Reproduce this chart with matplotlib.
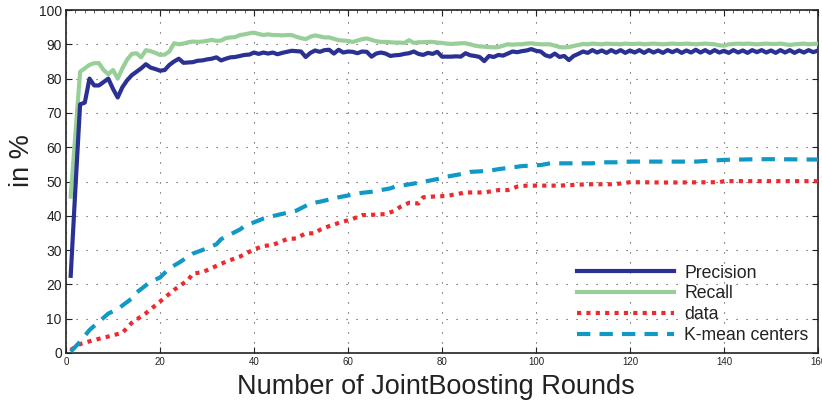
import numpy as np
import matplotlib
matplotlib.use("Agg")
import matplotlib.pyplot as plt
from matplotlib.ticker import MultipleLocator

plt.rcParams['font.family'] = ['Liberation Sans', 'DejaVu Sans']

# ---- data ----
rounds = list(range(1, 161))

precision = [
    22.5, 48.0, 72.5, 73.0, 80.0, 78.0, 78.0, 79.0, 80.0, 77.0,
    74.5, 77.5, 79.5, 81.0, 82.0, 83.0, 84.2, 83.2, 82.8, 82.3,
    82.5, 84.0, 85.0, 85.8, 84.6, 84.7, 84.8, 85.2, 85.3, 85.6,
    85.8, 86.2, 85.3, 85.8, 86.2, 86.3, 86.6, 86.9, 87.0, 87.6,
    87.2, 87.6, 87.3, 87.6, 87.1, 87.5, 87.8, 88.1, 88.0, 87.9,
    86.3, 87.5, 88.2, 87.8, 88.3, 88.4, 87.3, 88.4, 87.6, 87.9,
    87.8, 87.4, 87.9, 87.8, 86.4, 87.3, 87.6, 87.3, 86.6, 86.8,
    86.9, 87.2, 87.4, 87.9, 87.2, 86.9, 87.5, 87.2, 87.8, 86.4,
    86.4, 86.4, 86.5, 86.4, 87.4, 86.8, 86.6, 86.3, 85.1, 86.6,
    86.3, 86.9, 86.7, 87.3, 87.9, 87.7, 88.0, 88.2, 88.6, 88.1,
    87.9, 86.8, 86.4, 87.3, 86.3, 86.6, 85.4, 86.6, 87.2, 87.9,
    87.5, 88.3, 87.6, 88.2, 87.5, 88.3, 87.6, 88.3, 87.5, 88.2,
    87.6, 88.3, 87.5, 88.3, 87.6, 88.2, 87.5, 88.3, 87.7, 88.3,
    87.5, 88.2, 87.6, 88.4, 87.6, 88.3, 87.5, 88.3, 87.6, 88.1,
    87.5, 88.3, 87.6, 88.2, 87.5, 88.3, 87.7, 88.3, 87.6, 88.2,
    87.5, 88.3, 87.6, 88.3, 87.5, 88.2, 87.6, 88.3, 87.7, 88.2,
]

recall = [
    45.6, 64.0, 82.0, 83.0, 84.0, 84.5, 84.5, 82.5, 81.3, 82.5,
    80.0, 83.0, 85.5, 87.2, 87.4, 86.2, 88.3, 88.0, 87.5, 86.9,
    87.0, 87.9, 90.3, 90.0, 90.2, 90.6, 90.8, 90.7, 90.8, 91.0,
    91.3, 91.0, 91.1, 91.8, 92.0, 92.1, 92.7, 92.9, 93.2, 93.4,
    93.0, 92.7, 92.9, 92.7, 92.7, 92.6, 92.7, 92.7, 92.2, 91.8,
    91.5, 92.2, 92.6, 92.3, 92.0, 92.0, 91.6, 91.2, 91.1, 91.0,
    90.7, 91.1, 91.5, 91.7, 91.3, 90.9, 90.7, 90.7, 90.6, 90.5,
    90.5, 90.4, 91.2, 90.4, 90.6, 90.6, 90.7, 90.7, 90.5, 90.4,
    90.2, 90.1, 90.2, 90.3, 90.3, 90.0, 89.6, 89.4, 89.3, 89.2,
    89.1, 89.2, 89.6, 90.0, 89.9, 90.0, 90.0, 90.2, 90.3, 90.1,
    90.0, 90.0, 90.0, 89.6, 89.2, 89.1, 89.2, 89.5, 89.8, 90.1,
    90.0, 90.2, 90.1, 90.0, 90.2, 90.1, 90.1, 90.0, 90.2, 90.1,
    90.1, 90.2, 90.0, 90.1, 90.2, 90.1, 90.0, 90.1, 90.2, 90.1,
    90.1, 90.2, 90.1, 90.0, 90.1, 90.2, 90.1, 90.0, 89.7, 89.6,
    90.0, 90.1, 90.2, 90.1, 90.2, 90.1, 90.0, 90.1, 90.2, 90.1,
    90.1, 90.2, 90.0, 89.8, 90.0, 90.1, 90.2, 90.0, 90.1, 90.2,
]

data_x = [1, 3, 6, 9, 12, 14, 17, 20, 23, 26, 27, 29, 32, 34, 37, 40, 42, 44,
          47, 49, 51, 53, 54, 56, 58, 61, 63, 64, 68, 70, 71, 73, 75, 76, 78,
          81, 85, 89, 92, 94, 96, 98, 101, 105, 111, 116, 118, 120, 128, 139,
          140, 160]
data_y = [0.9, 2.6, 3.8, 4.8, 5.9, 8.8, 11.6, 15.0, 18.4, 21.3, 23.2, 23.5,
          25.4, 26.6, 28.1, 30.2, 31.2, 31.5, 33.2, 33.4, 34.9, 34.9, 35.9,
          37.0, 37.9, 39.1, 40.2, 40.2, 40.5, 41.5, 42.5, 43.8, 43.6, 45.4,
          45.6, 45.8, 46.8, 46.8, 47.5, 47.5, 48.5, 48.8, 48.8, 48.8, 49.2,
          49.2, 49.4, 49.8, 49.7, 49.8, 50.1, 50.1]

kmean_x = [1, 3, 5, 9, 11, 14, 15, 18, 20, 22, 24, 27, 29, 32, 33, 37, 38, 42,
           43, 49, 52, 54, 58, 63, 65, 69, 70, 74, 76, 79, 81, 85, 86, 90, 92,
           96, 97, 101, 103, 106, 109, 112, 114, 117, 120, 123, 129, 134, 140,
           147, 151, 160]
kmean_y = [0.4, 3.3, 6.7, 11.5, 12.8, 15.9, 17.6, 20.8, 22.0, 24.7, 26.3, 29.0,
           30.0, 31.7, 33.2, 36.0, 37.0, 39.2, 39.6, 41.5, 43.6, 44.1, 45.4,
           46.7, 47.0, 48.0, 48.5, 49.4, 49.9, 50.7, 51.4, 52.4, 52.8, 53.1,
           53.6, 54.3, 54.5, 54.8, 55.3, 55.3, 55.3, 55.3, 55.6, 55.6, 55.8,
           55.8, 55.8, 55.8, 56.3, 56.5, 56.5, 56.4]

labels = ["Precision", "Recall", "data", "K-mean centers"]
colors = ["#2B3192", "#98CF99", "#EE2A2E", "#1199C6"]

# ---- figure ----
fig = plt.figure(figsize=(8.22, 4.03), dpi=100)
ax = fig.add_axes([66 / 822, 50 / 403, 752 / 822, 343 / 403])

lw = 3.0
ax.plot(rounds, recall, color=colors[1], lw=lw, label=labels[1], zorder=3,
        solid_joinstyle='round')
ax.plot(rounds, precision, color=colors[0], lw=lw, label=labels[0], zorder=4,
        solid_joinstyle='round')
ax.plot(data_x, data_y, color=colors[2], lw=lw, label=labels[2], zorder=3,
        dashes=(1.0, 1.25), dash_capstyle='butt')
ax.plot(kmean_x, kmean_y, color=colors[3], lw=lw, label=labels[3], zorder=3,
        dashes=(3.2, 2.2), dash_capstyle='butt')

ax.set_xlim(0, 160)
ax.set_ylim(0, 100)
ax.xaxis.set_major_locator(MultipleLocator(20))
ax.yaxis.set_major_locator(MultipleLocator(10))
ax.xaxis.set_minor_locator(MultipleLocator(2))

ax.grid(True, which='major', color='#444444', lw=0.8, dashes=(1, 8))
ax.tick_params(which='major', direction='in', length=4, width=0.8,
               top=True, right=True, color='#222222')
ax.tick_params(which='minor', direction='in', length=2, width=0.6,
               top=True, bottom=False, color='#444444')
ax.tick_params(axis='x', labelsize=7, pad=3, labelcolor='#222222')
ax.tick_params(axis='y', labelsize=10, pad=3, labelcolor='#222222')
for s in ax.spines.values():
    s.set_linewidth(1.2)
    s.set_color('#222222')

ax.set_xlabel("Number of JointBoosting Rounds", fontsize=19.5, color='#222222')
ax.set_ylabel("in %", fontsize=19.5, color='#222222')
ax.xaxis.set_label_coords(0.492, -0.06)
ax.yaxis.set_label_coords(-0.041, 0.56)

handles, labs = ax.get_legend_handles_labels()
order = [labs.index(l) for l in labels]
leg = ax.legend([handles[i] for i in order], [labs[i] for i in order],
                loc='upper left', bbox_to_anchor=(0.68, 0.258),
                frameon=False, fontsize=12.7, handlelength=5.5,
                handletextpad=0.55, labelspacing=0.22, borderpad=0,
                borderaxespad=0)
for t in leg.get_texts():
    t.set_color('#222222')

fig.savefig("out.png", dpi=100)
